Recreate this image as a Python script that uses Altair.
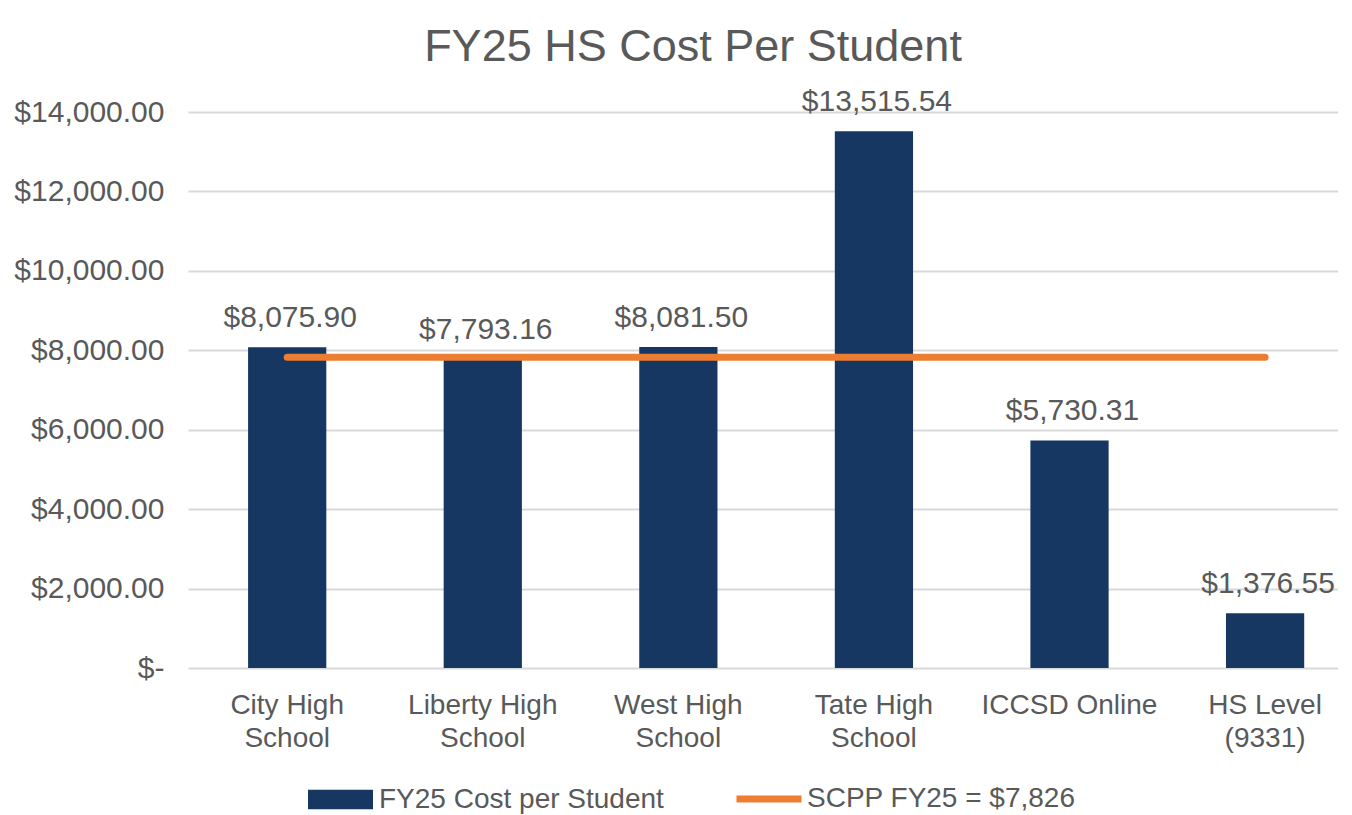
import altair as alt
import pandas as pd

categories = ["City High|School", "Liberty High|School", "West High|School",
              "Tate High|School", "ICCSD Online", "HS Level|(9331)"]
costs = [8075.90, 7793.16, 8081.50, 13515.54, 5730.31, 1376.55]
scpp_value = 7826
bar_series = "FY25 Cost per Student"
line_series = "SCPP FY25 = $7,826"
y_ticks = [0, 2000, 4000, 6000, 8000, 10000, 12000, 14000]

NAVY = "#173763"
ORANGE = "#ED7D31"
GREY = "#595959"
FONT = "Liberation Sans"

bars_df = pd.DataFrame({"cat": categories, "cost": costs, "s": [bar_series] * len(categories)})
line_df = pd.DataFrame({"cat": categories, "v": [scpp_value] * len(categories), "s2": [line_series] * len(categories)})

x_scale = alt.Scale(domain=categories, paddingInner=0.6, paddingOuter=0.24, align=0.64)
x_enc = alt.X("cat:N", scale=x_scale, sort=categories, title=None,
              axis=alt.Axis(labelExpr="split(datum.label, '|')", labelFontSize=28,
                            labelColor=GREY, labelFont=FONT, labelLineHeight=33,
                            labelPadding=23, labelAngle=0, ticks=False, domain=False,
                            labelBaseline="top", labelLimit=400))
y_scale = alt.Scale(domain=[0, 14000], nice=False)

bars = alt.Chart(bars_df).mark_bar(color=NAVY).encode(
    x=x_enc,
    y=alt.Y("cost:Q", scale=y_scale, title=None,
            axis=alt.Axis(values=y_ticks, labelFontSize=30, labelColor=GREY, labelFont=FONT,
                          labelExpr="datum.value == 0 ? '$-\u00a0\u00a0\u00a0' : format(datum.value, '$,.2f')",
                          labelPadding=24, ticks=False, domain=False, labelLimit=400,
                          grid=True, gridColor="#D9D9D9", gridWidth=2)),
    fill=alt.Fill("s:N", scale=alt.Scale(domain=[bar_series], range=[NAVY]),
                  legend=alt.Legend(title=None, orient="none", legendX=120, legendY=655,
                                    symbolType="M-1,-0.3H1V0.3H-1Z", symbolSize=4225,
                                    symbolStrokeWidth=0, labelFontSize=28, labelColor=GREY,
                                    labelFont=FONT, labelOffset=6, padding=0, labelLimit=500)),
)

labels = alt.Chart(bars_df).mark_text(baseline="alphabetic", dy=-20, dx=3, fontSize=30,
                                      color=GREY, font=FONT).encode(
    x=alt.X("cat:N", scale=x_scale, sort=categories),
    y=alt.Y("cost:Q", scale=y_scale),
    text=alt.Text("cost:Q", format="$,.2f"),
)

line = alt.Chart(line_df).mark_line(strokeWidth=7, strokeCap="round").encode(
    x=alt.X("cat:N", scale=x_scale, sort=categories),
    y=alt.Y("v:Q", scale=y_scale),
    stroke=alt.Stroke("s2:N", scale=alt.Scale(domain=[line_series], range=[ORANGE]),
                      legend=alt.Legend(title=None, orient="none", legendX=545, legendY=651,
                                        symbolType="stroke", symbolSize=4225,
                                        symbolStrokeWidth=7, labelFontSize=28, labelColor=GREY,
                                        labelFont=FONT, labelOffset=2, padding=0, labelLimit=500)),
)

chart = alt.layer(bars, line, labels).properties(
    width=1150, height=556,
    padding={"left": 5, "top": 17, "right": 0, "bottom": 0},
    title=alt.TitleParams("FY25 HS Cost Per Student", fontSize=45, color=GREY, font=FONT,
                          fontWeight="normal", anchor="middle", offset=17, dx=-70),
).configure_view(stroke=None)

chart.save("out.html", embed_options={"renderer": "svg", "actions": False})
